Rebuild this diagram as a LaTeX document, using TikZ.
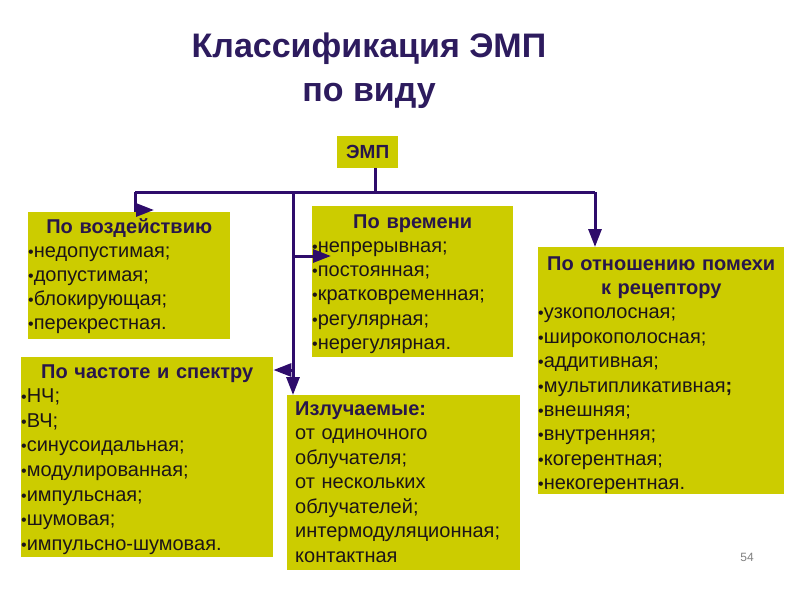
\documentclass[tikz,border=0pt]{standalone}
\usepackage{fontspec}
\setmainfont{Liberation Sans}
\usetikzlibrary{arrows.meta}
\definecolor{boxfill}{RGB}{204,204,0}
\definecolor{linec}{RGB}{46,12,107}
\definecolor{titlec}{RGB}{45,27,94}
\definecolor{headc}{RGB}{40,22,75}
\definecolor{bodyc}{RGB}{28,20,24}
\newcommand\bul{{\fontsize{16}{16}\selectfont •}}
\newcommand\hd[1]{\leavevmode\hbox to \hsize{\hfil\color{headc}\bfseries #1\hfil}}
\begin{document}
\begin{tikzpicture}[x=1pt,y=-1pt,
  panel/.style={fill=boxfill, draw=none, anchor=north west, inner sep=0pt},
  txt/.style={anchor=base west, inner sep=0pt, align=left, text=bodyc,
    font=\fontsize{20}{24.3}\selectfont},
  conn/.style={draw=linec, line width=3pt},
  tipped/.style={conn, -{Triangle[length=18pt,width=13pt]}, fill=linec}]
\fill[white] (0,0) rectangle (800,600);
\useasboundingbox (0,0) rectangle (800,600);

% title
\node[anchor=base, inner sep=0pt, text=titlec, font=\fontsize{34}{44}\selectfont\bfseries, align=center]
  (title) at (369,101) {Классификация ЭМП\\по виду};

% root
\node[panel, minimum width=61pt, minimum height=32pt] (emp) at (337,136) {};
\node[inner sep=0pt, text=headc, font=\fontsize{19}{19}\selectfont\bfseries] (empt) at (emp.center) {ЭМП};

% panels
\node[panel, minimum width=202pt, minimum height=127pt] (b1) at (28,212) {};
\node[panel, minimum width=201pt, minimum height=151pt] (b2) at (312,206) {};
\node[panel, minimum width=246pt, minimum height=247pt] (b3) at (538,247) {};
\node[panel, minimum width=252pt, minimum height=200pt] (b4) at (21,357) {};
\node[panel, minimum width=233pt, minimum height=175pt] (b5) at (287,395) {};

% texts
\node[txt, text width=202pt, font=\fontsize{20}{24}\selectfont] (t1) at (28,233) {\hd{По воздействию}\\
\bul недопустимая;\\ \bul допустимая;\\ \bul блокирующая;\\ \bul перекрестная.};
\node[txt, text width=201pt] (t2) at (312,228) {\hd{По времени}\\
\bul непрерывная;\\ \bul постоянная;\\ \bul кратковременная;\\ \bul регулярная;\\ \bul нерегулярная.};
\node[txt, text width=246pt, font=\fontsize{20}{24.4}\selectfont] (t3) at (538,270) {\hd{По отношению помехи}\\ \hd{к рецептору}\\
\bul узкополосная;\\ \bul широкополосная;\\ \bul аддитивная;\\ \bul мультипликативная\textbf{;}\\ \bul внешняя;\\ \bul внутренняя;\\ \bul когерентная;\\ \bul некогерентная.};
\node[txt, text width=252pt, font=\fontsize{20}{24.6}\selectfont] (t4) at (21,378) {\hd{По частоте и спектру}\\
\bul НЧ;\\ \bul ВЧ;\\ \bul синусоидальная;\\ \bul модулированная;\\ \bul импульсная;\\ \bul шумовая;\\ \bul импульсно-шумовая.};
\node[txt, text width=225pt, font=\fontsize{20}{24.5}\selectfont] (t5) at (295,415) {{\color{headc}\bfseries Излучаемые:}\\
от одиночного\\ облучателя;\\ от нескольких\\ облучателей;\\ интермодуляционная;\\ контактная};

% page number
\node[inner sep=0pt, text=gray, font=\fontsize{12}{12}\selectfont] (pn) at (747,557) {54};

% connectors
\coordinate (j) at (375,192);
\coordinate (hl) at (135,192);
\coordinate (hr) at (595,192);
\coordinate (mid) at (293,192);
\coordinate (m1) at (293,256);
\coordinate (m1e) at (331,256);
\coordinate (m2) at (293,370);
\coordinate (lt) at (135,210);
\coordinate (lte) at (154,210);
\draw[conn] (emp.south -| j) -- (j);
\draw[conn] (hl) -- (hr);
\draw[tipped] (hl) -- (lt) -- (lte);
\draw[tipped] (mid) -- (mid |- b5.north);
\draw[tipped] (m1) -- (m1e);
\draw[tipped] (m2) -- (m2 -| b4.east);
\draw[tipped] (hr) -- (hr |- b3.north);
\end{tikzpicture}
\end{document}
